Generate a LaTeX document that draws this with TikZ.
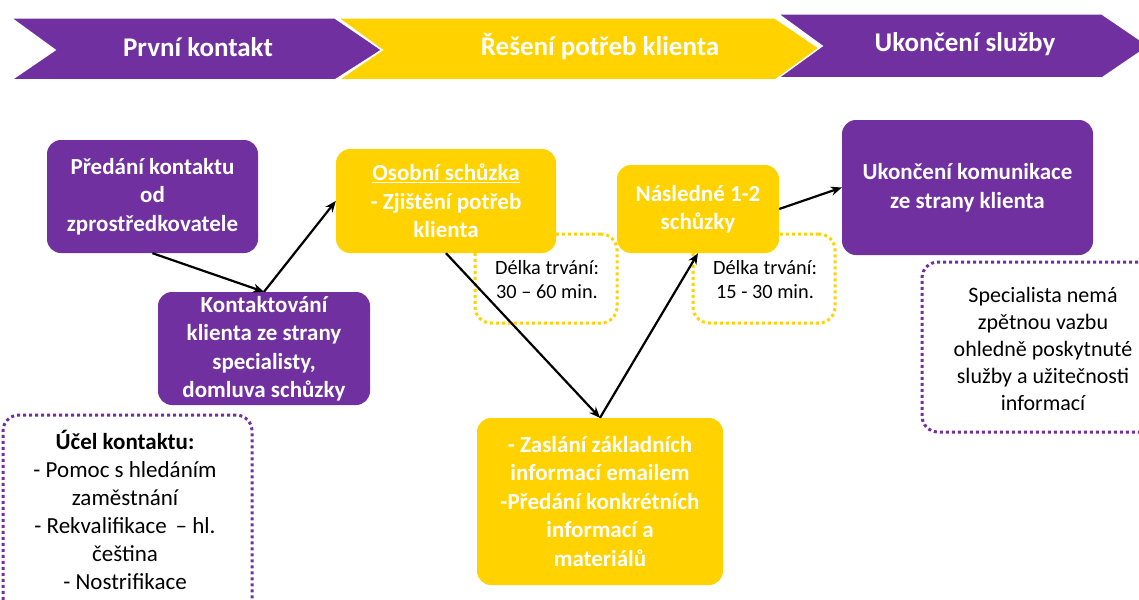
\documentclass[tikz,border=0pt]{standalone}
\usepackage{fontspec}
\setmainfont{Carlito}
\usetikzlibrary{arrows.meta}
\definecolor{purp}{HTML}{7030A0}
\definecolor{gold}{HTML}{FFD200}
\begin{document}
\begin{tikzpicture}[x=1pt,y=-1pt,
  boxtext/.style={text=white, font=\bfseries\fontsize{23}{28.5}\selectfont, align=center, inner sep=0pt},
  pbox/.style={boxtext, fill=purp, rounded corners=14pt},
  ybox/.style={boxtext, fill=gold, rounded corners=14pt},
  dotbox/.style={rounded corners=16pt, line width=3pt, dash pattern=on 3pt off 3pt, align=center, inner sep=0pt},
  chev/.style={draw=white, line width=1.5pt},
  chevtext/.style={text=white, font=\bfseries\fontsize{27}{30}\selectfont},
  conn/.style={line width=2.2pt, -{Stealth[length=11pt,width=9pt]}}
]
\useasboundingbox (0,0) rectangle (1139,599);
\clip (0,0) rectangle (1139,599);
% chevrons
\fill[purp, chev] (11,18) -- (335,18) -- (382,50) -- (335,80) -- (11,80) -- (55,50) -- cycle;
\fill[gold, chev] (338,18) -- (775,18) -- (822,50) -- (775,80) -- (338,80) -- (382,50) -- cycle;
\fill[purp, chev] (778,14) -- (1102,14) -- (1149,46) -- (1102,78) -- (778,78) -- (822,46) -- cycle;
\node[chevtext] (c1) at (198,47) {První kontakt};
\node[chevtext] (c2) at (600,47) {Řešení potřeb klienta};
\node[chevtext] (c3) at (965,44) {Ukončení služby};
% dotted boxes
\node[dotbox, draw=gold, minimum width=142pt, minimum height=89pt] (d1) at (546,278.5) {};
\node[font=\fontsize{20.3}{24}\selectfont, align=center] (d1t) at (547,280) {Délka trvání:\\30 – 60 min.};
\node[dotbox, draw=gold, minimum width=142pt, minimum height=89pt] (d2) at (764,278.5) {};
\node[font=\fontsize{20.3}{24}\selectfont, align=center] (d2t) at (765,280) {Délka trvání:\\15 - 30 min.};
\node[dotbox, draw=purp, minimum width=250pt, minimum height=170pt] (d3) at (1047,347) {};
\node[font=\fontsize{22}{27}\selectfont, align=center] (d3t) at (1043,349) {Specialista nemá\\zpětnou vazbu\\ohledně poskytnuté\\služby a užitečnosti\\informací};
\node[dotbox, draw=purp, minimum width=249pt, minimum height=200pt] (d4) at (127.5,515) {};
\node[font=\fontsize{23}{28}\selectfont, align=center] (d4t) at (125,510) {\textbf{Účel kontaktu:}\\- Pomoc s hledáním\\zaměstnání\\- Rekvalifikace \,– hl.\\čeština\\- Nostrifikace};
% solid boxes
\node[pbox, minimum width=211pt, minimum height=113pt] (pred) at (152.5,196.5) {Předání kontaktu\\od\\zprostředkovatele};
\node[pbox, minimum width=212pt, minimum height=113pt] (kont) at (264,348.5) {Kontaktování\\klienta ze strany\\specialisty,\\domluva schůzky};
\node[ybox, minimum width=220pt, minimum height=104pt] (osob) at (446,201) {\underline{Osobní schůzka}\\- Zjištění potřeb\\klienta};
\node[ybox, minimum width=162pt, minimum height=88pt] (nasl) at (698,209) {Následné 1-2\\schůzky};
\node[pbox, minimum width=251pt, minimum height=135pt] (ukon) at (967.5,187.5) {Ukončení komunikace\\ze strany klienta};
\node[ybox, minimum width=246pt, minimum height=167pt] (zas) at (600,501.5) {- Zaslání základních\\informací emailem\\-Předání konkrétních\\informací a\\materiálů};
% connectors
\draw[conn] (pred.south) -- (kont.north);
\draw[conn] (kont.north) -- (osob.west);
\draw[conn] (osob.south) -- (zas.north);
\draw[conn] (zas.north) -- (nasl.south);
\draw[conn] (nasl.east) -- (ukon.west);
\end{tikzpicture}
\end{document}
